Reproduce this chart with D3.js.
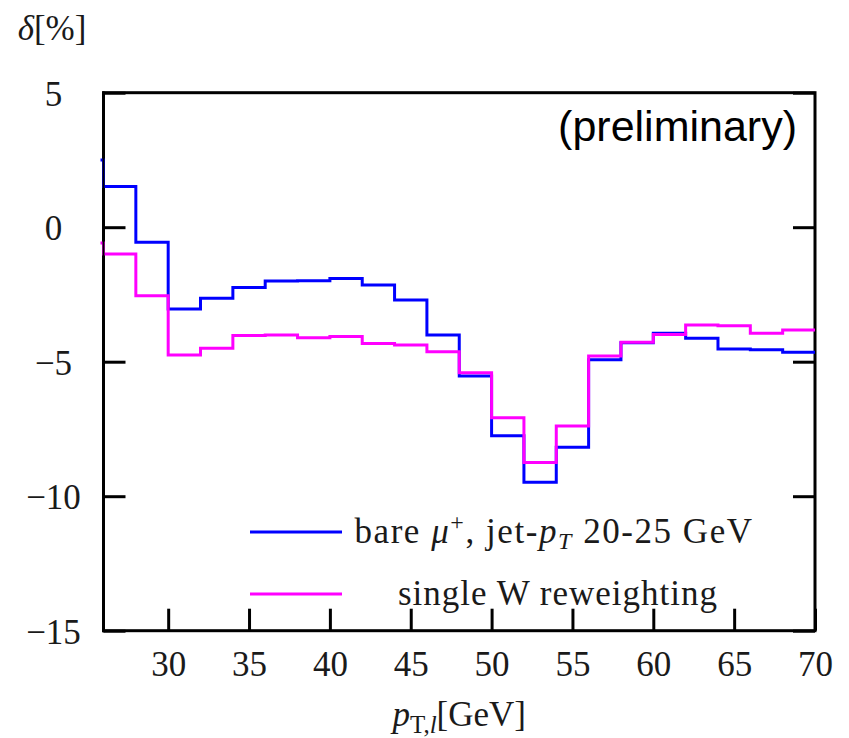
<!DOCTYPE html>
<html>
<head>
<meta charset="utf-8">
<script src="https://cdn.jsdelivr.net/npm/d3@7"></script>
<style>
  body { margin: 0; background: #fff; }
  svg text { font-family: "Liberation Serif", "DejaVu Serif", serif; fill: #1a1a1a; }
  svg text.sans { font-family: "Liberation Sans", Arial, sans-serif; fill: #000; }
</style>
</head>
<body>
<div class="canvas"></div>
<script>
// bin edges of the pT histogram (GeV), first bin only shows as the edge at x=26
var binEdges = [24, 26, 28, 30, 32, 34, 36, 38, 40, 42, 44, 46, 48, 50, 52, 54, 56, 58, 60, 62, 64, 66, 68, 70];

// delta [%] per bin
var bareMu = [2.5, 1.51, -0.56, -3.04, -2.64, -2.24, -2.0, -1.99, -1.91, -2.15, -2.71, -4.01,
    -5.53, -7.75, -9.48, -8.18, -4.93, -4.3, -3.94, -4.13, -4.53, -4.56, -4.65];
var singleW = [-0.59, -1.0, -2.55, -4.75, -4.5, -4.03, -4.01, -4.11, -4.06, -4.32, -4.38, -4.63,
    -5.41, -7.08, -8.75, -7.39, -4.79, -4.28, -3.99, -3.64, -3.66, -3.94, -3.82];

var xTicks = [30, 35, 40, 45, 50, 55, 60, 65, 70];
var yTicks = [5, 0, -5, -10, -15];

function loadGraph() {
    var margin = { top: 92.7, right: 34, bottom: 107.3, left: 103.5 },
        width = 849 - margin.left - margin.right,
        height = 738 - margin.top - margin.bottom;

    var x = d3.scaleLinear().domain([26, 70]).range([0, width]);
    var y = d3.scaleLinear().domain([-15, 5]).range([height, 0]);

    var svg = d3.select("body").select(".canvas").append("svg")
        .attr("width", 849)
        .attr("height", 738);

    var g = svg.append("g")
        .attr("transform", "translate(" + margin.left + "," + margin.top + ")");

    g.append("clipPath").attr("id", "plotClip")
        .append("rect").attr("x", -3).attr("width", width + 3).attr("height", height);

    // turn bin values into step points
    function steps(values) {
        return binEdges.map(function (e, i) {
            return { x: e, v: values[Math.min(i, values.length - 1)] };
        });
    }

    var stepLine = d3.line()
        .curve(d3.curveStepAfter)
        .x(function (d) { return x(d.x); })
        .y(function (d) { return y(d.v); });

    // frame first, the histograms sit on top of it
    g.append("rect")
        .attr("width", width).attr("height", height)
        .attr("fill", "none")
        .attr("stroke", "#000")
        .attr("stroke-width", 3);

    // x axis, ticks pointing inwards, labels below
    var xAxis = g.append("g")
        .attr("transform", "translate(0," + height + ")")
        .call(d3.axisBottom(x).tickValues(xTicks).tickSizeInner(-22).tickSizeOuter(0));
    xAxis.select(".domain").remove();
    xAxis.attr("font-family", null).attr("font-size", null);
    xAxis.selectAll("line").attr("stroke", "#000").attr("stroke-width", 3);
    xAxis.selectAll("text")
        .style("font-size", "35px")
        .attr("fill", null)
        .attr("y", 45)
        .attr("dy", null);

    // y axis left, labels centred in a column
    var yAxis = g.append("g")
        .call(d3.axisLeft(y).tickValues(yTicks).tickSizeInner(-22).tickSizeOuter(0).tickFormat(d3.format("d")));
    yAxis.select(".domain").remove();
    yAxis.attr("font-family", null).attr("font-size", null);
    yAxis.selectAll("line").attr("stroke", "#000").attr("stroke-width", 3);
    yAxis.selectAll("text")
        .style("font-size", "35px")
        .attr("fill", null)
        .attr("text-anchor", "middle")
        .attr("x", -50)
        .attr("dy", "0.36em");

    // y axis right, ticks only
    var yRight = g.append("g")
        .attr("transform", "translate(" + width + ",0)")
        .call(d3.axisRight(y).tickValues(yTicks).tickSizeInner(-22).tickSizeOuter(0).tickFormat(""));
    yRight.select(".domain").remove();
    yRight.selectAll("line").attr("stroke", "#000").attr("stroke-width", 3);

    g.append("path")
        .datum(steps(bareMu))
        .attr("clip-path", "url(#plotClip)")
        .attr("fill", "none")
        .attr("stroke", "#0000ff")
        .attr("stroke-width", 3)
        .attr("d", stepLine);

    g.append("path")
        .datum(steps(singleW))
        .attr("clip-path", "url(#plotClip)")
        .attr("fill", "none")
        .attr("stroke", "#ff00ff")
        .attr("stroke-width", 3)
        .attr("d", stepLine);

    // redraw the left border on top, the step edges show just outside it
    g.append("line")
        .attr("x1", 0).attr("x2", 0)
        .attr("y1", -1.5).attr("y2", height + 1.5)
        .attr("stroke", "#000")
        .attr("stroke-width", 2);

    // axis titles
    var yl = svg.append("text")
        .attr("x", 52).attr("y", 40)
        .attr("text-anchor", "middle")
        .style("font-size", "35px");
    yl.append("tspan").attr("font-style", "italic").text("δ");
    yl.append("tspan").text("[%]");

    var xl = svg.append("text")
        .attr("x", margin.left + width / 2).attr("y", 726)
        .attr("text-anchor", "middle")
        .style("font-size", "35px");
    xl.append("tspan").attr("font-style", "italic").text("p");
    xl.append("tspan").style("font-size", "25px").attr("dy", 7).text("T,");
    xl.append("tspan").style("font-size", "25px").attr("font-style", "italic").text("l");
    xl.append("tspan").attr("dy", -7).text("[GeV]");

    svg.append("text")
        .attr("class", "sans")
        .attr("x", 797).attr("y", 141)
        .attr("text-anchor", "end")
        .style("font-size", "43px")
        .text("(preliminary)");

    // legend
    var legendRows = [
        { color: "#0000ff", y: 532, x0: 354.5, x1: 752 },
        { color: "#ff00ff", y: 594, x0: 398, x1: 717 }
    ];
    legendRows.forEach(function (row) {
        svg.append("line")
            .attr("x1", 250).attr("x2", 342)
            .attr("y1", row.y).attr("y2", row.y)
            .attr("stroke", row.color)
            .attr("stroke-width", 3);
    });

    var t1 = svg.append("text")
        .attr("x", legendRows[0].x0).attr("y", legendRows[0].y + 11)
        .style("font-size", "35px");
    t1.append("tspan").text("bare ");
    t1.append("tspan").attr("font-style", "italic").text("μ");
    t1.append("tspan").style("font-size", "24px").attr("dy", -13).text("+");
    t1.append("tspan").attr("dy", 13).text(", jet-");
    t1.append("tspan").attr("font-style", "italic").text("p");
    t1.append("tspan").attr("font-style", "italic").style("font-size", "24px").attr("dy", 6).text("T");
    t1.append("tspan").attr("dy", -6).text(" 20-25 GeV");

    var t2 = svg.append("text")
        .attr("x", legendRows[1].x0).attr("y", legendRows[1].y + 11)
        .style("font-size", "35px")
        .text("single W reweighting");

    // stretch legend text to the width used in the original
    [[t1, legendRows[0]], [t2, legendRows[1]]].forEach(function (p) {
        p[0].attr("textLength", p[1].x1 - p[1].x0).attr("lengthAdjust", "spacing");
    });
}

loadGraph();
</script>
</body>
</html>
